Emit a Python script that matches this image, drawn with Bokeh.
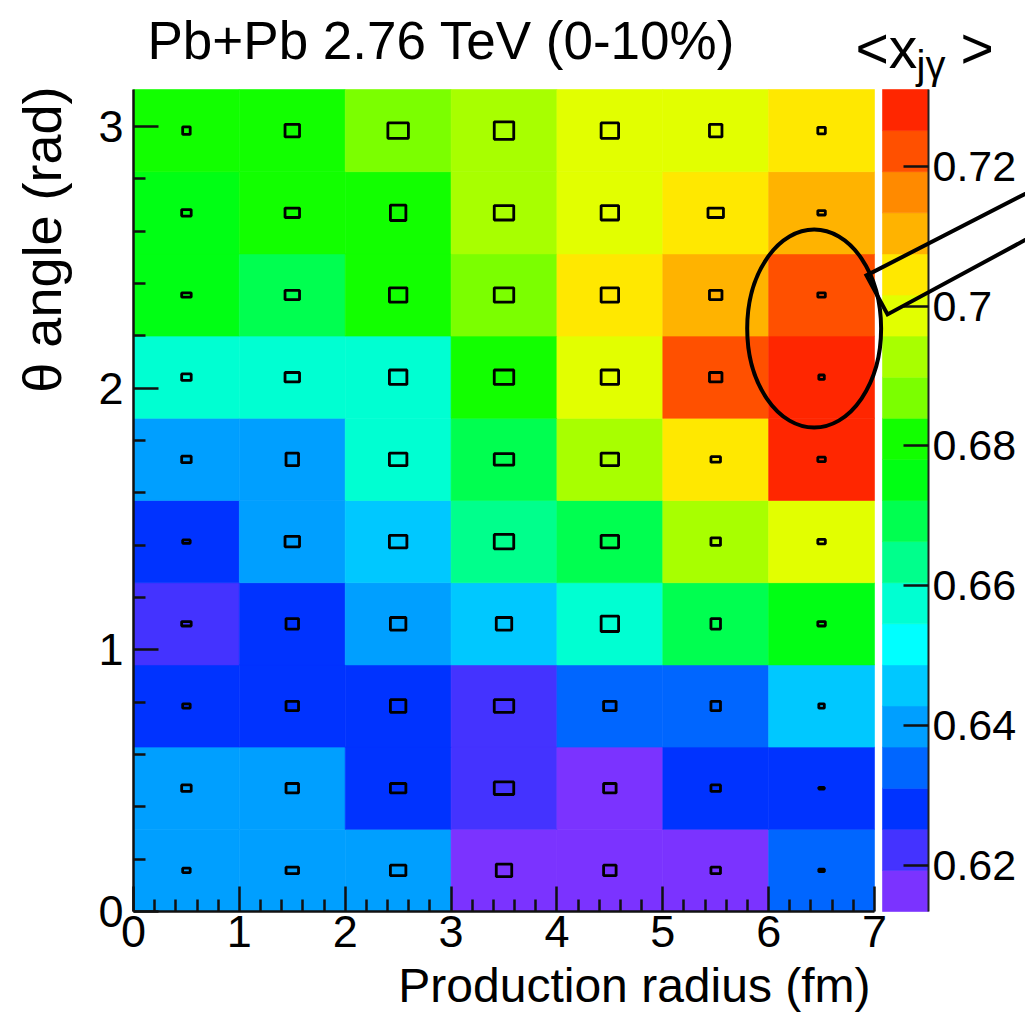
import numpy as np
from bokeh.plotting import figure
from bokeh.models import (ColumnDataSource, LinearColorMapper, Range1d, LinearAxis,
                          FixedTicker, CustomJSTickFormatter, Label, PolyAnnotation)
from bokeh.transform import transform
from bokeh.embed import file_html
from bokeh.resources import INLINE

# ---------------- data ----------------
r_edges = [0, 1, 2, 3, 4, 5, 6, 7]          # production radius bins (fm)
n_theta_bins = 10                            # theta bins covering [0, pi]

# <x_jgamma> per bin; rows = theta bins from 0 upward, columns = radius bins
xjg_mean = [
    [0.6398, 0.6391, 0.6405, 0.6165, 0.6158, 0.6171, 0.6342],
    [0.6402, 0.6389, 0.6281, 0.6224, 0.6134, 0.6276, 0.6288],
    [0.6279, 0.6285, 0.6272, 0.6219, 0.6338, 0.6345, 0.6461],
    [0.6228, 0.6283, 0.6396, 0.6453, 0.6572, 0.6691, 0.6748],
    [0.6274, 0.6408, 0.6459, 0.6633, 0.6695, 0.6926, 0.6991],
    [0.6394, 0.6401, 0.6578, 0.6688, 0.6931, 0.7042, 0.7276],
    [0.6569, 0.6581, 0.6575, 0.6811, 0.6983, 0.7218, 0.7310],
    [0.6745, 0.6702, 0.6806, 0.6864, 0.7049, 0.7101, 0.7225],
    [0.6751, 0.6812, 0.6808, 0.6921, 0.6988, 0.7038, 0.7108],
    [0.6816, 0.6819, 0.6871, 0.6934, 0.6979, 0.6995, 0.7052],
]

# uncertainty boxes: full extent in radius (fm) and in theta (rad)
box_dr = [
    [0.071, 0.118, 0.146, 0.146, 0.118, 0.090, 0.052],
    [0.090, 0.118, 0.146, 0.184, 0.118, 0.090, 0.052],
    [0.071, 0.118, 0.146, 0.184, 0.118, 0.090, 0.052],
    [0.090, 0.118, 0.146, 0.146, 0.165, 0.090, 0.071],
    [0.071, 0.137, 0.165, 0.184, 0.165, 0.090, 0.071],
    [0.090, 0.118, 0.165, 0.184, 0.165, 0.090, 0.071],
    [0.090, 0.137, 0.165, 0.184, 0.165, 0.118, 0.052],
    [0.090, 0.137, 0.165, 0.184, 0.165, 0.118, 0.071],
    [0.090, 0.137, 0.146, 0.184, 0.165, 0.146, 0.071],
    [0.071, 0.137, 0.194, 0.184, 0.165, 0.118, 0.071],
]
box_dtheta = [
    [0.017, 0.025, 0.040, 0.048, 0.040, 0.025, 0.010],
    [0.025, 0.036, 0.036, 0.048, 0.036, 0.025, 0.006],
    [0.017, 0.036, 0.048, 0.048, 0.036, 0.036, 0.017],
    [0.017, 0.040, 0.048, 0.048, 0.059, 0.040, 0.017],
    [0.013, 0.040, 0.048, 0.055, 0.048, 0.029, 0.017],
    [0.025, 0.048, 0.048, 0.044, 0.048, 0.021, 0.017],
    [0.025, 0.036, 0.055, 0.055, 0.055, 0.036, 0.017],
    [0.017, 0.036, 0.055, 0.055, 0.055, 0.036, 0.017],
    [0.025, 0.036, 0.059, 0.055, 0.055, 0.036, 0.017],
    [0.029, 0.048, 0.059, 0.067, 0.059, 0.048, 0.025],
]

x_ticks = [0, 1, 2, 3, 4, 5, 6, 7]
y_ticks = [0, 1, 2, 3]
cbar_ticks = [0.62, 0.64, 0.66, 0.68, 0.70, 0.72]

# 20-level rainbow palette, low -> high
palette = [
    "#7b33ff", "#4433ff", "#0033ff", "#0066ff", "#009fff",
    "#00c8ff", "#00ffff", "#00ffd2", "#00ff8c", "#00ff50",
    "#00ff14", "#12ff00", "#7bff00", "#a8ff00", "#e2ff00",
    "#ffe800", "#ffb300", "#ff8a00", "#ff5000", "#ff2600",
]

title_text = "Pb+Pb 2.76 TeV (0-10%)"
x_title = "Production radius (fm)"
y_title = "\u03b8 angle (rad)"

# highlighted region (ellipse around the high-<x> bins) and pointer outline
hl_center = (6.43, 2.228)
hl_size = (1.265, 0.757)
pointer_r = [8.76, 6.924, 7.123, 8.76]
pointer_theta = [2.813, 2.431, 2.282, 2.640]

# ---------------- layout (pixels) ----------------
W, H = 1025, 1015
FRAME_L, FRAME_T, FRAME_B = 133, 89, 911
HEAT_R = 874      # pixel where r = 7 fm sits
BAR_L, BAR_R = 882, 928   # colour scale edges
FONT = "Liberation Sans"

r_max = r_edges[-1]
px_per_fm = (HEAT_R - FRAME_L) / r_max
px_per_rad = (FRAME_B - FRAME_T) / np.pi


def to_x(px):
    return (px - FRAME_L) / px_per_fm


def to_y(py):
    return (FRAME_B - py) / px_per_rad


# ---------------- build sources ----------------
z = np.array(xjg_mean)
zlo, zhi = float(z.min()), float(z.max())
px_per_z = (FRAME_B - FRAME_T) / (zhi - zlo)
dtheta = np.pi / n_theta_bins
r_centers = 0.5 * (np.array(r_edges[:-1]) + np.array(r_edges[1:]))
t_centers = (np.arange(n_theta_bins) + 0.5) * dtheta
RR, TT = np.meshgrid(r_centers, t_centers)

src = ColumnDataSource(dict(
    r=RR.ravel(), th=TT.ravel(), z=z.ravel(),
    dr=np.array(box_dr).ravel(), dth=np.array(box_dtheta).ravel(),
))

mapper = LinearColorMapper(palette=palette, low=zlo, high=zhi)

# the plotting frame spans the whole canvas; axes sit at fixed data locations
p = figure(width=W, height=H, output_backend="svg", toolbar_location=None,
           x_range=Range1d(to_x(0), to_x(W)), y_range=Range1d(to_y(H), to_y(0)),
           min_border=0, background_fill_color="white", border_fill_color="white")
p.outline_line_color = None
p.xgrid.visible = False
p.ygrid.visible = False
p.extra_y_ranges = {"cbar": Range1d(zlo - (H - FRAME_B) / px_per_z,
                                    zhi + FRAME_T / px_per_z)}

# heat map cells
p.rect("r", "th", width=1.0, height=dtheta, source=src,
       fill_color=transform("z", mapper), line_color=transform("z", mapper),
       line_width=0.6)

# colour scale
levels = np.linspace(zlo, zhi, len(palette) + 1)
p.quad(left=to_x(BAR_L), right=to_x(BAR_R), bottom=levels[:-1], top=levels[1:],
       fill_color=palette, line_color=palette, line_width=0.6,
       y_range_name="cbar")

# uncertainty boxes
p.rect("r", "th", width="dr", height="dth", source=src,
       fill_color=None, line_color="black", line_width=2.8)

# highlight ellipse
p.ellipse(x=[hl_center[0]], y=[hl_center[1]], width=[hl_size[0]], height=[hl_size[1]],
          fill_color=None, line_color="black", line_width=4)

# axes
xa = p.xaxis[0]
xa.fixed_location = 0
xa.bounds = (0, r_max)
xa.ticker = FixedTicker(ticks=x_ticks,
                        minor_ticks=[v for v in np.round(np.arange(0, 7.001, 0.2), 3) if v % 1])
ya = p.yaxis[0]
ya.fixed_location = 0
ya.bounds = (0, np.pi)
ya.ticker = FixedTicker(ticks=y_ticks,
                        minor_ticks=[v for v in np.round(np.arange(0, 3.001, 0.2), 3) if v % 1])
for ax in (xa, ya):
    ax.major_tick_in = 25
    ax.major_tick_out = 0
    ax.minor_tick_in = 12
    ax.minor_tick_out = 0
    ax.axis_line_width = 2.5
    ax.axis_line_color = "#111111"
    ax.major_tick_line_width = 2.5
    ax.minor_tick_line_width = 2.5
    ax.major_tick_line_color = "#111111"
    ax.minor_tick_line_color = "#111111"
    ax.major_label_text_font = FONT
    ax.major_label_text_font_size = "45px"
    ax.major_label_text_color = "black"
xa.major_label_standoff = 4
ya.major_label_standoff = 10

cax = LinearAxis(y_range_name="cbar", fixed_location=to_x(BAR_R), bounds=(zlo, zhi),
                 ticker=FixedTicker(ticks=cbar_ticks, minor_ticks=[]),
                 formatter=CustomJSTickFormatter(code="return String(Math.round(tick*100)/100)"))
cax.major_tick_in = 25
cax.major_tick_out = 0
cax.minor_tick_in = 0
cax.minor_tick_out = 0
cax.axis_line_width = 2
cax.axis_line_color = "#222222"
cax.major_tick_line_width = 2.5
cax.major_tick_line_color = "#111111"
cax.major_label_standoff = 4
cax.major_label_text_font = FONT
cax.major_label_text_font_size = "43px"
cax.major_label_text_color = "black"
p.add_layout(cax, "right")

# texts (anchor pixels are the intended text baselines)
def add_text(px, py, text, size, **kw):
    p.add_layout(Label(x=to_x(px), y=to_y(py), text=text, text_font=FONT,
                       text_font_size=f"{size}px", text_baseline="alphabetic",
                       text_color="black", **kw))


add_text(147, 40, title_text, 53, text_align="left")
add_text(870, 985, x_title, 48, text_align="right")
add_text(41, 86, y_title, 54, text_align="right", angle=np.pi / 2)
# colour-scale title  <x_{j gamma}>
add_text(855, 47, "<x", 57, text_align="left")
add_text(916, 64, "j\u03b3", 40, text_align="left")
add_text(960, 47, ">", 57, text_align="left")

# pointer outline leaving the highlighted region
p.add_layout(PolyAnnotation(xs=pointer_r, ys=pointer_theta, xs_units="data", ys_units="data",
                            fill_color=None, fill_alpha=0, line_color="black",
                            line_alpha=1.0, line_width=4, line_join="miter"))

open("out.html", "w").write(file_html(p, INLINE))
